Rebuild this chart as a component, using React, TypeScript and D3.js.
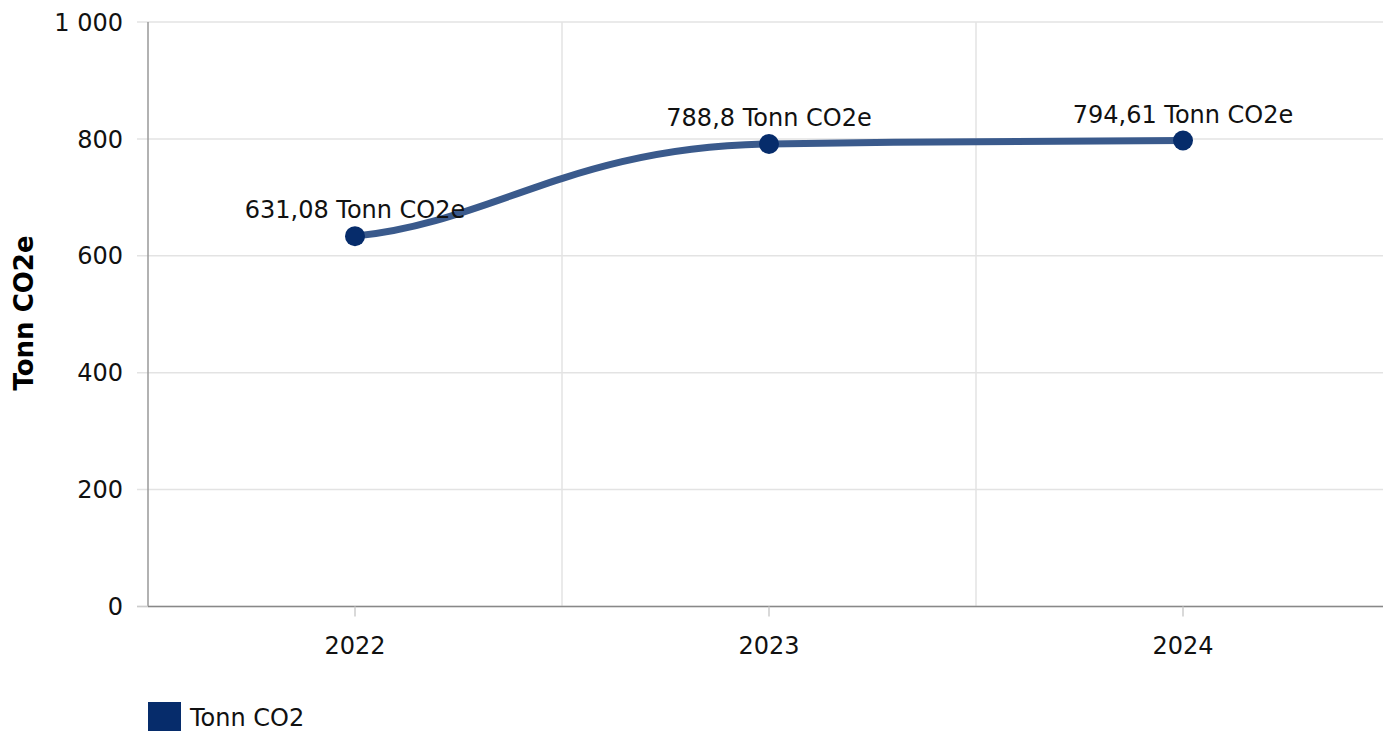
import React, { useMemo } from 'react';
import * as d3 from 'd3';

const years = ['2022', '2023', '2024'];
const values = [631.08, 788.8, 794.61];
const yTicks = [0, 200, 400, 600, 800, 1000];
const seriesName = 'Tonn CO2';
const yTitle = 'Tonn CO2e';
const unit = 'Tonn CO2e';

const W = 1383;
const H = 731;
const M = { left: 148, right: 1390, top: 22, bottom: 606.5 };
const FONT = '"DejaVu Sans", Verdana, sans-serif';
const LINE = '#3a5a8c';
const DOT = '#062c6b';
const GRID = '#e3e3e3';

const locale = d3.formatLocale({ decimal: ',', thousands: '\u00a0', grouping: [3], currency: ['', ''] });
const fmtTick = locale.format(',d');
const fmtVal = (v: number) => String(v).replace('.', ',');

// spline used by the original chart: flat-ish tangents at inner points,
// softened tangent at the ends, longer handle going into a point
function splineCurve(context: any) {
  let pts: [number, number][] = [];
  return {
    areaStart() {},
    areaEnd() {},
    lineStart() {
      pts = [];
    },
    point(x: number, y: number) {
      pts.push([+x, +y]);
    },
    lineEnd() {
      const n = pts.length;
      if (!n) return;
      context.moveTo(pts[0][0], pts[0][1]);
      if (n === 1) return;
      const s: number[] = [];
      for (let i = 0; i < n - 1; i++) s.push((pts[i + 1][1] - pts[i][1]) / (pts[i + 1][0] - pts[i][0]));
      const m: number[] = pts.map((_, i) => {
        if (i === 0) return s[0] * 0.45;
        if (i === n - 1) return s[n - 2] * 0.45;
        const a = s[i - 1];
        const b = s[i];
        if (a * b <= 0) return 0;
        return 2 / (1 / a + 1 / b);
      });
      for (let i = 0; i < n - 1; i++) {
        const [x0, y0] = pts[i];
        const [x1, y1] = pts[i + 1];
        const dx = x1 - x0;
        const hOut = dx / 3;
        const hIn = dx * 0.48;
        context.bezierCurveTo(x0 + hOut, y0 + m[i] * hOut, x1 - hIn, y1 - m[i + 1] * hIn, x1, y1);
      }
    },
  };
}

export default function App() {
  const x = useMemo(() => d3.scaleBand<string>().domain(years).range([M.left, M.right]), []);
  const y = useMemo(() => d3.scaleLinear().domain([0, 1000]).range([M.bottom, M.top]), []);
  const cx = (d: string) => (x(d) ?? 0) + x.bandwidth() / 2;

  const line = d3
    .line<number>()
    .x((_, i) => cx(years[i]))
    .y((v) => y(v) - 1.5)
    .curve(splineCurve as any);

  return (
    <svg
      width={W}
      height={H}
      style={{ position: 'absolute', left: 0, top: 0, background: '#fff' }}
      fontFamily={FONT}
    >
      {/* horizontal grid + y ticks */}
      {yTicks.map((t) => (
        <g key={t}>
          <line x1={137} x2={W} y1={y(t)} y2={y(t)} stroke={GRID} strokeWidth={1.5} />
          <text x={123} y={y(t)} dy="0.36em" textAnchor="end" fontSize={24} fill="#111">
            {fmtTick(t)}
          </text>
        </g>
      ))}
      {/* vertical band boundaries */}
      {years.slice(1).map((d) => (
        <line key={d} x1={x(d)} x2={x(d)} y1={M.top} y2={M.bottom} stroke={GRID} strokeWidth={1.5} />
      ))}
      {/* axes */}
      <line x1={M.left} x2={M.left} y1={M.top} y2={M.bottom} stroke="#999" strokeWidth={1.5} />
      <line x1={M.left} x2={W} y1={M.bottom} y2={M.bottom} stroke="#888" strokeWidth={1.5} />
      <line x1={137} x2={M.left} y1={M.bottom} y2={M.bottom} stroke="#ccc" strokeWidth={1.5} />
      {years.map((d) => (
        <g key={d}>
          <line x1={cx(d)} x2={cx(d)} y1={M.bottom} y2={M.bottom + 10} stroke="#ccc" strokeWidth={1.5} />
          <text x={cx(d)} y={654} textAnchor="middle" fontSize={24} fill="#111">
            {d}
          </text>
        </g>
      ))}
      <text
        transform="translate(33,313) rotate(-90)"
        textAnchor="middle"
        fontSize={26}
        fontWeight="bold"
        fill="#000"
      >
        {yTitle}
      </text>

      {/* series */}
      <path d={line(values) ?? ''} fill="none" stroke={LINE} strokeWidth={7} strokeLinecap="round" />
      {values.map((v, i) => (
        <g key={years[i]}>
          <circle cx={cx(years[i])} cy={y(v) - 1.5} r={10} fill={DOT} />
          <text x={cx(years[i])} y={y(v) - 19.5} textAnchor="middle" fontSize={24} fill="#111">
            {`${fmtVal(v)} ${unit}`}
          </text>
        </g>
      ))}

      {/* legend */}
      <rect x={148} y={702} width={33} height={29} fill={DOT} />
      <text x={190} y={726} fontSize={24} fill="#111">
        {seriesName}
      </text>
    </svg>
  );
}
